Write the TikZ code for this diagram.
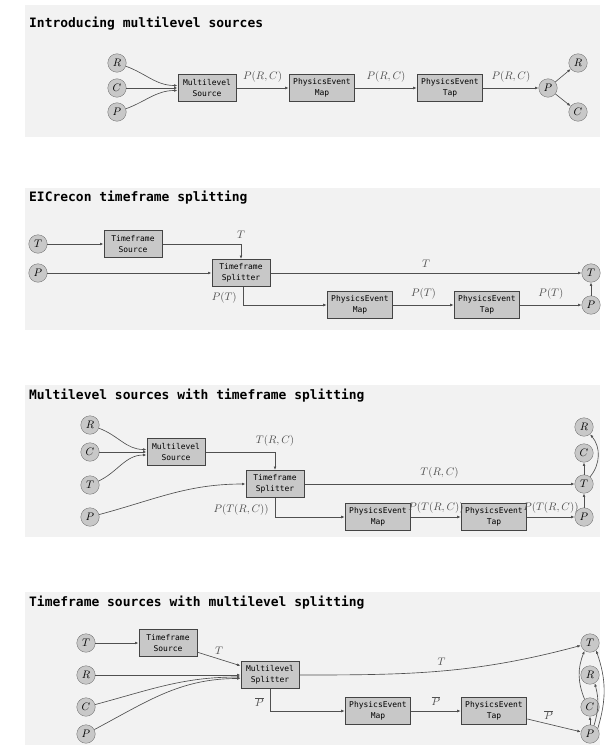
\documentclass[tikz,border=0pt]{standalone}
\usepackage{fontspec}
\setmonofont{DejaVu Sans Mono}
\usetikzlibrary{arrows.meta, positioning, calc}
\definecolor{panelbg}{RGB}{242,242,242}
\definecolor{boxfill}{RGB}{200,200,200}
\definecolor{edgec}{RGB}{80,80,80}

\begin{document}
\begin{tikzpicture}[x=1bp, y=1bp,
  panel/.style={fill=panelbg, draw=none},
  ttl/.style={anchor=west, inner sep=0pt, font=\ttfamily\bfseries\fontsize{13}{15}\selectfont},
  proc/.style={draw=edgec!85!black, line width=1bp, fill=boxfill, minimum width=58bp, minimum height=27bp, inner xsep=4bp, inner ysep=1bp, align=center, font=\ttfamily\fontsize{8}{10.5}\selectfont},
  var/.style={circle, draw=gray!90!black, fill=boxfill, minimum size=18.5bp, inner sep=0pt, font=\fontsize{10.5}{11}\selectfont},
  lbl/.style={font=\fontsize{11}{13}\selectfont, inner sep=2bp},
  arr/.style={-{Latex[length=3.5bp, width=2.8bp]}, edgec, line width=0.65bp}
]
\useasboundingbox (0,0) rectangle (608,-745);

% --- Introducing multilevel sources
\fill[panel] (25,-5) rectangle (600,-137);
\node[ttl] (ttl1) at (29,-24) {Introducing multilevel sources};
\node[var] (r1) at (117,-63) {$R$};
\node[var] (c1) at (117,-88) {$C$};
\node[var] (p1) at (117,-112) {$P$};
\node[proc] (msrc1) at (207,-88) {Multilevel\\Source};
\node[proc] (map1) at (322,-88) {PhysicsEvent\\Map};
\node[proc] (tap1) at (450,-88) {PhysicsEvent\\Tap};
\node[var] (pout1) at (548,-88) {$P$};
\node[var] (rout1) at (578,-63) {$R$};
\node[var] (cout1) at (578,-112) {$C$};
\draw[arr] (r1) to[out=-20, in=180] ([yshift=2.5bp]msrc1.west);
\draw[arr] (c1) -- (msrc1);
\draw[arr] (p1) to[out=20, in=180] ([yshift=-2.5bp]msrc1.west);
\draw[arr] (msrc1) -- node[lbl, above=3bp] {$P(R,C)$} (map1);
\draw[arr] (map1) -- node[lbl, above=3bp] {$P(R,C)$} (tap1);
\draw[arr] (tap1) -- node[lbl, above=3bp] {$P(R,C)$} (pout1);
\draw[arr] (pout1) -- (rout1);
\draw[arr] (pout1) -- (cout1);

% --- EICrecon timeframe splitting
\fill[panel] (25,-188) rectangle (600,-330);
\node[ttl] (ttl2) at (29,-198) {EICrecon timeframe splitting};
\node[var] (t2) at (38,-244) {$T$};
\node[var] (p2) at (38,-273) {$P$};
\node[proc] (tsrc2) at (133,-244) {Timeframe\\Source};
\node[proc] (split2) at (241,-273) {Timeframe\\Splitter};
\node[proc] (map2) at (360,-305) {PhysicsEvent\\Map};
\node[proc] (tap2) at (487,-305) {PhysicsEvent\\Tap};
\node[var] (tout2) at (591,-273) {$T$};
\node[var] (pout2) at (591,-305) {$P$};
\draw[arr] (t2) -- (tsrc2);
\draw[arr] (tsrc2) -| node[lbl, above=3bp] {$T$} (split2);
\draw[arr] (p2) -- (split2);
\draw[arr] (split2) -- node[lbl, above=3bp] {$T$} (tout2);
\draw[arr] ([xshift=2bp]split2.south) |- node[lbl, left=4bp, pos=0.3] {$P(T)$} (map2);
\draw[arr] (map2) -- node[lbl, above=3bp] {$P(T)$} (tap2);
\draw[arr] (tap2) -- node[lbl, above=3bp] {$P(T)$} (pout2);
\draw[arr] (pout2) -- (tout2);

% --- Multilevel sources with timeframe splitting
\fill[panel] (25,-385) rectangle (600,-537);
\node[ttl] (ttl3) at (29,-396) {Multilevel sources with timeframe splitting};
\node[var] (r3) at (90,-425) {$R$};
\node[var] (c3) at (90,-452) {$C$};
\node[var] (t3) at (90,-485) {$T$};
\node[var] (p3) at (90,-517) {$P$};
\node[proc] (msrc3) at (176,-452) {Multilevel\\Source};
\node[proc] (split3) at (275,-484) {Timeframe\\Splitter};
\node[proc] (map3) at (378,-517) {PhysicsEvent\\Map};
\node[proc] (tap3) at (494,-517) {PhysicsEvent\\Tap};
\node[var] (rout3) at (584,-427) {$R$};
\node[var] (cout3) at (584,-453) {$C$};
\node[var] (tout3) at (584,-484) {$T$};
\node[var] (pout3) at (584,-517) {$P$};
\draw[arr] (r3) to[out=-20, in=180] ([yshift=2.5bp]msrc3.west);
\draw[arr] (c3) -- (msrc3);
\draw[arr] (t3) to[out=25, in=180] ([yshift=-3bp]msrc3.west);
\draw[arr] (msrc3) -| node[lbl, above=3bp] {$T(R,C)$} (split3);
\draw[arr] (p3) to[out=15, in=180] (split3);
\draw[arr] (split3) -- node[lbl, above=3bp] {$T(R,C)$} (tout3);
\draw[arr] (split3.south) |- node[lbl, left=4bp, pos=0.3] {$P(T(R,C))$} (map3);
\draw[arr] (map3) -- node[lbl, above=1bp, inner xsep=0pt] {$P(T(R,C))$} (tap3);
\draw[arr] (tap3) -- node[lbl, above=1bp, inner xsep=0pt] {$P(T(R,C))$} (pout3);
\draw[arr] (pout3) -- (tout3);
\draw[arr] (tout3) -- (cout3);
\draw[arr] (tout3) to[bend right=40] (rout3);

% --- Timeframe sources with multilevel splitting
\fill[panel] (25,-592) rectangle (600,-745);
\node[ttl] (ttl4) at (29,-603) {Timeframe sources with multilevel splitting};
\node[var] (t4) at (86,-643) {$T$};
\node[var] (r4) at (86,-675) {$R$};
\node[var] (c4) at (86,-707) {$C$};
\node[var] (p4) at (86,-734) {$P$};
\node[proc] (tsrc4) at (168,-643) {Timeframe\\Source};
\node[proc] (split4) at (270,-675) {Multilevel\\Splitter};
\node[proc] (map4) at (378,-711) {PhysicsEvent\\Map};
\node[proc] (tap4) at (494,-711) {PhysicsEvent\\Tap};
\node[var] (tout4) at (590,-643) {$T$};
\node[var] (rout4) at (590,-675) {$R$};
\node[var] (cout4) at (590,-707) {$C$};
\node[var] (pout4) at (590,-734) {$P$};
\draw[arr] (t4) -- (tsrc4);
\draw[arr] (tsrc4) -- node[lbl, above=2bp] {$T$} (split4);
\draw[arr] (r4) -- (split4);
\draw[arr] (c4) to[out=15, in=180] ([yshift=-2bp]split4.west);
\draw[arr] (p4) to[out=28, in=180] ([yshift=-3.5bp]split4.west);
\draw[arr] (split4) to[out=0, in=195] node[lbl, above=3bp] {$T$} (tout4);
\draw[arr] (split4.south) |- node[lbl, left=4bp, pos=0.3] {$\overline{P}$} (map4);
\draw[arr] (map4) -- node[lbl, above=3bp] {$\overline{P}$} (tap4);
\draw[arr] (tap4) -- node[lbl, above=2bp, pos=0.4] {$\overline{P}$} (pout4);
\draw[arr] (pout4) -- (cout4);
\draw[arr] (cout4.125) to[bend left=22] (tout4.-125);
\draw[arr] (pout4.65) to[bend right=16] (rout4.-60);
\draw[arr] (pout4.35) to[bend right=18] (tout4.-50);
\end{tikzpicture}
\end{document}
